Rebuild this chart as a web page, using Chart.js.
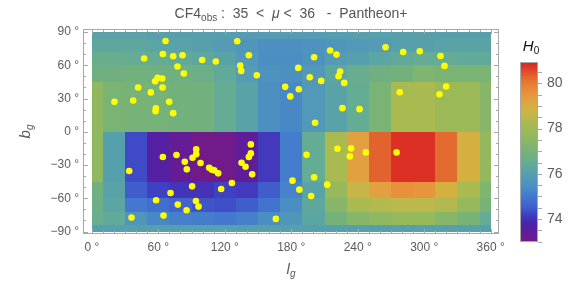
<!DOCTYPE html>
<html>
<head>
<meta charset="utf-8">
<script src="https://cdn.jsdelivr.net/npm/chart.js@4.4.1/dist/chart.umd.min.js"></script>
<style>
  html, body { margin: 0; padding: 0; background: #fff; }
  #wrap { width: 573px; height: 306px; }
</style>
</head>
<body>
<div id="wrap"><canvas id="chart" width="573" height="306"></canvas></div>
<script>
// ── data ────────────────────────────────────────────────────────────
// cell edges (galactic longitude / latitude, degrees)
const lonEdges = [0, 10, 30, 50, 70, 90, 110, 130, 150, 170, 190, 210, 230, 250, 270, 290, 310, 330, 350, 360];
const latEdges = [90, 84, 72, 60, 45, 0, -45, -60, -72, -84, -90];

// H0 per cell, one row per latitude band (top to bottom), one value per longitude cell
const h0Grid = [
  [76.1, 76.1, 76.1, 76.05, 76.05, 76.0, 75.95, 75.9, 75.9, 75.9, 75.9, 75.95, 76.0, 76.0, 76.05, 76.05, 76.05, 76.05, 76.05],
  [76.3, 76.3, 76.3, 76.2, 76.1, 76.05, 75.9, 75.7, 75.5, 75.5, 75.55, 75.7, 75.8, 75.9, 76.0, 76.05, 76.1, 76.15, 76.15],
  [76.6, 76.6, 76.5, 76.5, 76.4, 76.3, 76.1, 75.8, 75.4, 75.4, 75.6, 75.9, 76.0, 76.2, 76.4, 76.5, 76.5, 76.4, 76.4],
  [76.8, 76.8, 76.9, 76.8, 76.8, 76.7, 76.4, 75.9, 75.6, 75.5, 75.8, 76.3, 76.6, 76.8, 76.9, 77.2, 77.1, 77.1, 77.1],
  [77.6, 77.1, 77.0, 77.0, 76.9, 76.85, 76.5, 76.1, 75.5, 75.3, 75.8, 76.1, 76.5, 77.1, 78.2, 78.2, 77.9, 77.9, 77.4],
  [77.6, 76.0, 74.3, 73.6, 73.3, 73.05, 73.05, 73.4, 74.1, 75.1, 76.5, 78.2, 79.3, 80.3, 80.8, 80.8, 80.2, 78.9, 77.7],
  [76.8, 76.1, 74.5, 74.2, 74.05, 74.0, 74.2, 74.1, 74.5, 75.2, 76.1, 77.8, 78.7, 79.3, 79.6, 79.5, 78.9, 78.2, 77.2],
  [76.7, 76.2, 75.0, 74.8, 74.6, 74.4, 74.35, 74.5, 74.9, 75.4, 76.3, 77.4, 78.2, 78.4, 78.55, 78.55, 78.35, 77.8, 77.05],
  [76.6, 76.4, 75.7, 75.3, 75.15, 75.1, 75.0, 75.15, 75.4, 75.7, 76.2, 76.95, 77.4, 77.55, 77.75, 77.75, 77.4, 77.05, 76.5],
  [76.0, 76.0, 76.0, 76.0, 76.0, 76.0, 76.0, 76.0, 76.0, 76.0, 76.0, 76.0, 76.05, 76.05, 76.05, 76.05, 76.05, 76.05, 76.05]
];

// supernova positions
const snLon = [
  66.5, 131.2, 47.2, 64.1, 73.4, 81.8, 99.6, 111.9, 141.7, 133.9, 134.8, 148.9, 77.3, 83.0, 59.3, 63.5, 57.1, 41.8, 63.8, 53.2,
  20.4, 37.3, 69.8, 57.8, 57.5, 73.4, 186.3, 174.5, 179.1, 186.8,
  215.1, 220.8, 200.6, 265.1, 281.0, 296.0, 314.7, 318.3, 224.1, 222.7, 196.7, 207.0, 227.8, 319.8, 278.0, 313.8, 226.2, 241.6, 201.5,
  94.2, 94.2, 90.9, 76.4, 64.1, 83.9, 98.1, 85.7, 105.9, 108.3, 110.4, 114.0, 33.7, 143.5, 143.5, 141.7, 135.1, 138.7, 144.7,
  126.4, 116.7, 90.5, 71.0, 58.0, 93.9, 77.6, 96.3, 85.5, 35.8, 64.7, 166.1, 181.1, 187.3,
  221.7, 234.0, 232.9, 247.3, 275.0, 193.8, 200.6, 212.4, 197.9
];
const snLat = [
  81.9, 81.6, 66.1, 70.2, 68.1, 69.0, 64.8, 63.4, 69.0, 59.7, 54.9, 51.0, 58.9, 52.5, 48.6, 48.0, 45.6, 40.0, 40.0, 35.5,
  27.0, 28.2, 27.0, 21.1, 18.6, 16.8, 57.6, 40.5, 31.9, 38.3,
  73.3, 69.6, 67.2, 76.2, 72.0, 72.6, 68.4, 59.4, 54.4, 50.1, 49.2, 45.9, 44.1, 40.9, 35.7, 33.9, 21.3, 20.4, 8.1,
  -15.9, -20.3, -23.4, -21.0, -22.8, -27.0, -28.2, -33.9, -32.4, -34.2, -34.8, -37.5, -35.4, -11.4, -19.5, -22.8, -27.9, -31.5, -38.4,
  -46.2, -51.6, -49.2, -55.2, -61.8, -62.4, -65.7, -67.5, -70.8, -77.4, -75.6, -78.6, -44.1, -52.2,
  -15.3, -15.0, -22.2, -18.6, -18.6, -20.7, -41.1, -47.7, -57.9
];

const lonTicks = [0, 60, 120, 180, 240, 300, 360];
const latTicks = [-90, -60, -30, 0, 30, 60, 90];
const cbTicks = [74, 76, 78, 80];
const cbMin = 72.98;
const cbMax = 80.95;

// ── style ───────────────────────────────────────────────────────────
const FONT = '"Liberation Sans", Arial, sans-serif';
const TEXT = '#5c5c5c';
const FRAME = '#a8a8a8';

// rainbow-like colour scale (value -> colour)
const cmapVals = [72.98, 73.5, 73.8, 74.2, 74.5, 75.0, 75.4, 75.8, 76.1, 76.5, 76.8, 77.1, 77.6, 78.2, 78.6, 78.9, 79.3, 79.6, 80.0, 80.4, 80.95];
const cmapCols = ['#741a88', '#5a1ea0', '#4a24aa', '#3f40c4', '#3f5ecc', '#4478d0', '#4a8ec4', '#5298b8', '#58a2a8', '#64ac94',
                  '#70b080', '#7ab474', '#90b860', '#a8ba50', '#c0b84a', '#d4b040', '#e2a040', '#e8903a', '#e67c34', '#e25a2c', '#d82020'];

function hexRgb(h) {
  return [parseInt(h.slice(1, 3), 16), parseInt(h.slice(3, 5), 16), parseInt(h.slice(5, 7), 16)];
}
const cmapRgb = cmapCols.map(hexRgb);

function h0Color(v) {
  if (v <= cmapVals[0]) return cmapCols[0];
  for (let i = 1; i < cmapVals.length; i++) {
    if (v <= cmapVals[i]) {
      const t = (v - cmapVals[i - 1]) / (cmapVals[i] - cmapVals[i - 1]);
      const a = cmapRgb[i - 1], b = cmapRgb[i];
      return `rgb(${Math.round(a[0] + (b[0] - a[0]) * t)},${Math.round(a[1] + (b[1] - a[1]) * t)},${Math.round(a[2] + (b[2] - a[2]) * t)})`;
    }
  }
  return cmapCols[cmapCols.length - 1];
}

function fmtDeg(v) {
  return (v < 0 ? '\u2212' + Math.abs(v) : String(v)) + ' \u00b0';
}

// draws a run of text pieces (for sub-/superscripts)
function richText(ctx, parts, x, y, align) {
  let w = 0;
  parts.forEach(p => { ctx.font = p.font; w += ctx.measureText(p.t).width; });
  let cx = align === 'center' ? x - w / 2 : x;
  parts.forEach(p => {
    ctx.font = p.font;
    ctx.fillText(p.t, cx, y + (p.dy || 0));
    cx += ctx.measureText(p.t).width;
  });
}

// ── heatmap cells, under the points ─────────────────────────────────
const heatmap = {
  id: 'heatmap',
  beforeDatasetsDraw(chart) {
    const { ctx, scales: { x, y } } = chart;
    ctx.save();
    for (let r = 0; r < h0Grid.length; r++) {
      const y0 = Math.round(y.getPixelForValue(latEdges[r]));
      const y1 = Math.round(y.getPixelForValue(latEdges[r + 1]));
      for (let c = 0; c < h0Grid[r].length; c++) {
        const x0 = Math.round(x.getPixelForValue(lonEdges[c]));
        const x1 = Math.round(x.getPixelForValue(lonEdges[c + 1]));
        ctx.fillStyle = h0Color(h0Grid[r][c]);
        ctx.fillRect(x0, y0, x1 - x0, y1 - y0);
      }
    }
    ctx.restore();
  }
};

// ── frame, inward ticks, titles, colour bar ─────────────────────────
const decor = {
  id: 'decor',
  afterDraw(chart) {
    const { ctx, chartArea: a, scales: { x, y } } = chart;
    ctx.save();
    ctx.strokeStyle = FRAME;
    ctx.lineWidth = 1;
    ctx.strokeRect(a.left + 0.5, a.top + 0.5, a.right - a.left - 1, a.bottom - a.top - 1);

    ctx.beginPath();
    for (let v = 0; v <= 360; v += 10) {
      const px = Math.round(x.getPixelForValue(v)) + 0.5;
      const len = v % 60 === 0 ? 5 : 3;
      ctx.moveTo(px, a.bottom); ctx.lineTo(px, a.bottom - len);
      ctx.moveTo(px, a.top); ctx.lineTo(px, a.top + len);
    }
    for (let v = -90; v <= 90; v += 10) {
      const py = Math.round(y.getPixelForValue(v)) + 0.5;
      const len = v % 30 === 0 ? 5 : 3;
      ctx.moveTo(a.left, py); ctx.lineTo(a.left + len, py);
      ctx.moveTo(a.right, py); ctx.lineTo(a.right - len, py);
    }
    ctx.stroke();

    // title
    ctx.fillStyle = '#555';
    ctx.textBaseline = 'alphabetic';
    richText(ctx, [
      { t: 'CF4', font: `14px ${FONT}` },
      { t: 'obs', font: `10px ${FONT}`, dy: 3 },
      { t: ' :  35  <  ', font: `14px ${FONT}` },
      { t: '\u03bc', font: `italic 14px ${FONT}` },
      { t: ' <  36   -  Pantheon+', font: `14px ${FONT}` }
    ], (a.left + a.right) / 2, 18, 'center');

    // axis titles
    ctx.fillStyle = TEXT;
    richText(ctx, [
      { t: 'l', font: `italic 15px ${FONT}` },
      { t: 'g', font: `italic 10px ${FONT}`, dy: 3 }
    ], (a.left + a.right) / 2, 274, 'center');
    ctx.save();
    ctx.translate(30, (a.top + a.bottom) / 2);
    ctx.rotate(-Math.PI / 2);
    richText(ctx, [
      { t: 'b', font: `italic 15px ${FONT}` },
      { t: 'g', font: `italic 10px ${FONT}`, dy: 3 }
    ], 0, 0, 'center');
    ctx.restore();

    // colour bar
    const bx = 520, bw = 18, bTop = 62, bBot = 242;
    const cbPix = v => bBot - (v - cbMin) / (cbMax - cbMin) * (bBot - bTop);
    for (let py = bTop; py < bBot; py++) {
      const v = cbMin + (bBot - py - 0.5) / (bBot - bTop) * (cbMax - cbMin);
      ctx.fillStyle = h0Color(v);
      ctx.fillRect(bx, py, bw, 1);
    }
    ctx.strokeStyle = FRAME;
    ctx.strokeRect(bx + 0.5, bTop + 0.5, bw - 1, bBot - bTop - 1);
    ctx.beginPath();
    for (let v = 73; v <= 80.5; v += 0.5) {
      const py = Math.round(cbPix(v)) + 0.5;
      ctx.moveTo(bx + bw, py); ctx.lineTo(bx + bw + 4, py);
    }
    ctx.stroke();
    ctx.fillStyle = TEXT;
    ctx.font = `14px ${FONT}`;
    ctx.textAlign = 'left';
    ctx.textBaseline = 'middle';
    cbTicks.forEach(v => ctx.fillText(String(v), bx + bw + 9, cbPix(v)));

    ctx.fillStyle = '#111';
    ctx.textBaseline = 'alphabetic';
    richText(ctx, [
      { t: 'H', font: `italic 15px ${FONT}` },
      { t: '0', font: `10px ${FONT}`, dy: 3 }
    ], bx + bw / 2 + 2, 51, 'center');
    ctx.restore();
  }
};

// ── chart ───────────────────────────────────────────────────────────
new Chart(document.getElementById('chart'), {
  type: 'scatter',
  data: {
    datasets: [{
      data: snLon.map((l, i) => ({ x: l, y: snLat[i] })),
      backgroundColor: '#ffff00',
      borderWidth: 0,
      pointRadius: 3.3,
      pointHoverRadius: 3.3
    }]
  },
  options: {
    responsive: false,
    animation: false,
    events: [],
    layout: { padding: { top: 29, right: 74, left: 0, bottom: 0 } },
    plugins: { legend: { display: false }, tooltip: { enabled: false }, title: { display: false } },
    scales: {
      x: {
        type: 'linear',
        min: -8,
        max: 367.5,
        afterBuildTicks: s => { s.ticks = lonTicks.map(v => ({ value: v })); },
        afterFit: s => { s.height = 72; },
        grid: { display: false, drawTicks: false },
        border: { display: false },
        ticks: { padding: 6, color: TEXT, font: { family: FONT, size: 12 }, maxRotation: 0, autoSkip: false, callback: v => fmtDeg(v) }
      },
      y: {
        type: 'linear',
        min: -92.2,
        max: 92.7,
        afterBuildTicks: s => { s.ticks = latTicks.map(v => ({ value: v })); },
        afterFit: s => { s.width = 83; },
        grid: { display: false, drawTicks: false },
        border: { display: false },
        ticks: { padding: 4, color: TEXT, font: { family: FONT, size: 12 }, autoSkip: false, callback: v => fmtDeg(v) }
      }
    }
  },
  plugins: [heatmap, decor]
});
</script>
</body>
</html>
